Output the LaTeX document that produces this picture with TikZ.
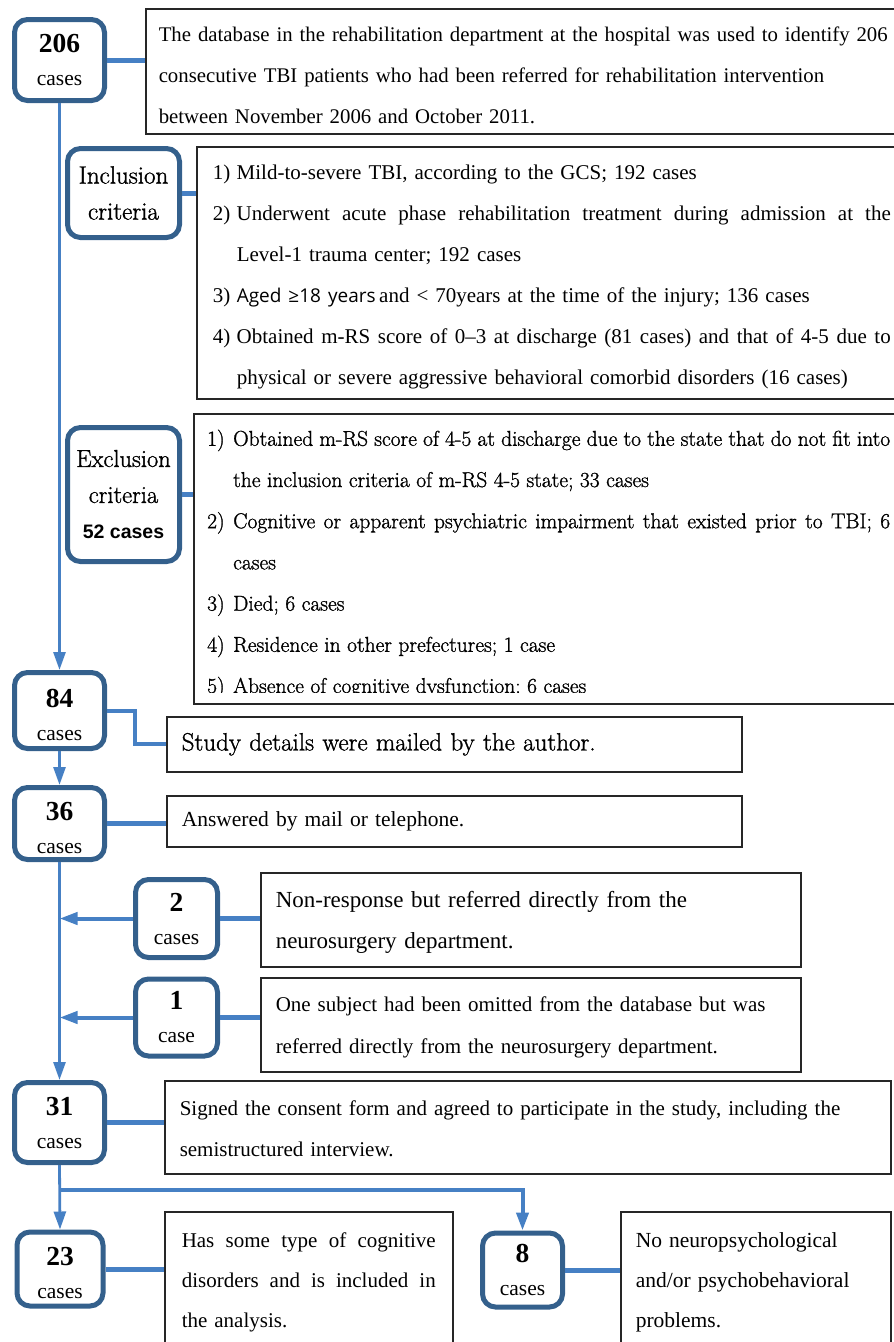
\documentclass[tikz,border=0pt]{standalone}
\usepackage{fontspec}
\setmainfont{Liberation Serif}
\newfontfamily\centfont[RawFeature={embolden=1.2}]{Latin Modern Roman}
\newfontfamily\agefont{Open Sans}
\newfontfamily\cntfont{Liberation Sans}
\usetikzlibrary{arrows.meta}

\definecolor{boxblue}{RGB}{52,96,140}
\definecolor{lineblue}{RGB}{70,128,196}
\definecolor{frame}{RGB}{38,38,38}

\newcommand{\lift}[1]{\rule{0pt}{#1}}
\newcommand{\cnt}[2]{{\fontsize{27.5}{27.5}\selectfont\bfseries #1}\\#2}
\newcommand{\cntlow}[2]{{\fontsize{27.5}{27.5}\selectfont\bfseries\lift{27pt}#1}\\#2}
\newcommand{\itm}[1]{\makebox[24pt][l]{#1)}}
\newcommand{\xitm}[1]{\makebox[26pt][l]{#1)}}
\newcommand{\jline}[2]{\leavevmode\hbox to #1{\spaceskip=.25em plus 1fil\relax #2}}

\begin{document}
\begin{tikzpicture}[x=1pt,y=-1pt,
    countbox/.style={draw=boxblue,line width=5pt,rounded corners=13pt,fill=white,align=center,inner sep=0pt,font=\fontsize{21.5}{33}\selectfont},
    textbox/.style={draw=frame,line width=1.5pt,anchor=north west,align=left,inner ysep=0pt},
    link/.style={draw=lineblue,line width=5pt},
    flow/.style={draw=lineblue,line width=2.8pt,-{Triangle[width=12pt,length=18pt]}}]
    \useasboundingbox (0,0) rectangle (894,1342);

    % Rounded Rect
    \node (c206) at (59.5,60) [countbox,minimum width=90,minimum height=81] {\cnt{206}{cases}};
    % Rounded Rect
    \node (incl) at (123.5,193) [countbox,minimum width=112,minimum height=89,font=\centfont\fontsize{25}{36}\selectfont] {Inclusion\\criteria};
    % Rounded Rect
    \node (excl) at (123.5,494.5) [countbox,minimum width=112,minimum height=134,font=\centfont\fontsize{24.5}{36}\selectfont] {Exclusion\\criteria\\{\cntfont\bfseries\fontsize{19.5}{19.5}\selectfont 52 cases}};
    % Rounded Rect
    \node (c84) at (59.5,710.5) [countbox,minimum width=90,minimum height=76] {\cntlow{84}{cases}};
    % Rounded Rect
    \node (c36) at (59.5,823.5) [countbox,minimum width=90,minimum height=72] {\cntlow{36}{cases}};
    % Rounded Rect
    \node (c2) at (176.5,918.5) [countbox,minimum width=82,minimum height=78] {\cnt{2}{cases}};
    % Rounded Rect
    \node (c1) at (176.5,1017.5) [countbox,minimum width=82,minimum height=77] {\cnt{1}{case}};
    % Rounded Rect
    \node (c31) at (59.5,1122.5) [countbox,minimum width=90,minimum height=80] {\cnt{31}{cases}};
    % Rounded Rect
    \node (c23) at (60,1269) [countbox,minimum width=86,minimum height=74] {\cntlow{23}{cases}};
    % Rounded Rect
    \node (c8) at (522.5,1270) [countbox,minimum width=80,minimum height=74] {\cnt{8}{cases}};

    % Text Node
    \node (topbox) at (145,8) [textbox,minimum width=760,minimum height=125,inner xsep=13,text width=734,font=\fontsize{20.8}{41}\selectfont]
    {\lift{22pt}The database in the rehabilitation department at the hospital was used to identify 206\\
     consecutive TBI patients who had been referred for rehabilitation intervention\\
     between November 2006 and October 2011.};
    % Text Node
    \node (inclist) at (196,146) [textbox,minimum width=709,minimum height=252,inner xsep=16,text width=677,font=\fontsize{21}{41}\selectfont]
    {\itm{1}\lift{23pt}Mild-to-severe TBI, according to the GCS; 192 cases\\
     \itm{2}\jline{654pt}{Underwent acute phase rehabilitation treatment during admission at the}\\
     \hspace*{24pt}Level-1 trauma center; 192 cases\\
     \itm{3}{\agefont\fontsize{19}{41}\selectfont Aged ≥18 years}\,and < 70years at the time of the injury; 136 cases\\
     \itm{4}\jline{654pt}{Obtained m-RS score of 0–3 at discharge (81 cases) and that of 4-5 due to}\\
     \hspace*{24pt}physical or severe aggressive behavioral comorbid disorders (16 cases)};
    % Text Node
    \node (exlist) at (193,413) [textbox,minimum width=712,minimum height=290] {};
    \begin{scope}
    \clip (193,413) rectangle (905,692);
    % Text Node
    \node (extext) at (207,429.5) [anchor=north west,align=left,inner sep=0pt,font=\centfont\fontsize{21.5}{41.2}\selectfont]
    {\xitm{1}\jline{657pt}{Obtained m-RS score of 4-5 at discharge due to the state that do not fit into}\\
     \hspace*{26pt}the inclusion criteria of m-RS 4-5 state; 33 cases\\
     \xitm{2}\jline{657pt}{Cognitive or apparent psychiatric impairment that existed prior to TBI; 6}\\
     \hspace*{26pt}cases\\
     \xitm{3}Died; 6 cases\\
     \xitm{4}Residence in other prefectures; 1 case\\
     \xitm{5}Absence of cognitive dysfunction; 6 cases};
    \end{scope}
    % Text Node
    \node (mailbox) at (166,716) [textbox,minimum width=575,minimum height=55,inner xsep=15,text width=545,font=\centfont\fontsize{25}{28}\selectfont]
    {Study details were mailed by the author.};
    % Text Node
    \node (answbox) at (166,795) [textbox,minimum width=575,minimum height=51,inner xsep=15,text width=545,font=\fontsize{21.5}{24}\selectfont]
    {Answered by mail or telephone.};
    % Text Node
    \node (nrbox) at (260,872) [textbox,minimum width=540,minimum height=94,inner xsep=15,text width=510,font=\fontsize{23}{41}\selectfont]
    {\lift{21pt}Non-response but referred directly from the\\neurosurgery department.};
    % Text Node
    \node (omitbox) at (260,977) [textbox,minimum width=540,minimum height=94,inner xsep=15,text width=510,font=\fontsize{21}{42}\selectfont]
    {\lift{21pt}One subject had been omitted from the database but was\\referred directly from the neurosurgery department.};
    % Text Node
    \node (signbox) at (164,1080) [textbox,minimum width=726,minimum height=93,inner xsep=15,text width=696,font=\fontsize{21}{41}\selectfont]
    {\lift{18pt}Signed the consent form and agreed to participate in the study, including the\\semistructured interview.};
    % Text Node
    \node (incbox) at (164,1211) [textbox,minimum width=288,minimum height=142,inner xsep=17,text width=254,font=\fontsize{21}{40}\selectfont]
    {\jline{254pt}{Has some type of cognitive}\\\jline{254pt}{disorders and is included in}\\the analysis.};
    % Text Node
    \node (nobox) at (620,1211) [textbox,minimum width=270,minimum height=142,inner xsep=15,text width=240,font=\fontsize{21.5}{40}\selectfont]
    {No neuropsychological\\and/or psychobehavioral\\problems.};

    %Straight Lines
    \draw[link] (c206.east) -- (c206.east -| topbox.west);
    \draw[link] (incl.east) -- (incl.east -| inclist.west);
    \draw[link] (excl.east) -- (excl.east -| exlist.west);
    \draw[link,line width=4pt] (c84.east) -- ++(28,0) |- (mailbox.west);
    \draw[link] (c36.east) -- (c36.east -| answbox.west);
    \draw[link] (c2.east) -- (c2.east -| nrbox.west);
    \draw[link] (c1.east) -- (c1.east -| omitbox.west);
    \draw[link] (c31.east) -- (c31.east -| signbox.west);
    \draw[link] (c23.east) -- (c23.east -| incbox.west);
    \draw[link] (c8.east) -- (c8.east -| nobox.west);

    % Arrows
    \draw[flow] (c206.south) -- (c84.north);
    \draw[flow] (c84.south) -- (c36.north);
    \draw[flow] (c36.south) -- (c31.north);
    \draw[flow,line width=4pt] (c2.west) -- (c2.west -| c36.south);
    \draw[flow,line width=4pt] (c1.west) -- (c1.west -| c36.south);
    \coordinate (split) at (c31.south |- 0,1190);
    \draw[flow] (c31.south) -- (c23.north);
    \draw[flow,line width=4pt] (split) -| (c8.north);

\end{tikzpicture}
\end{document}
